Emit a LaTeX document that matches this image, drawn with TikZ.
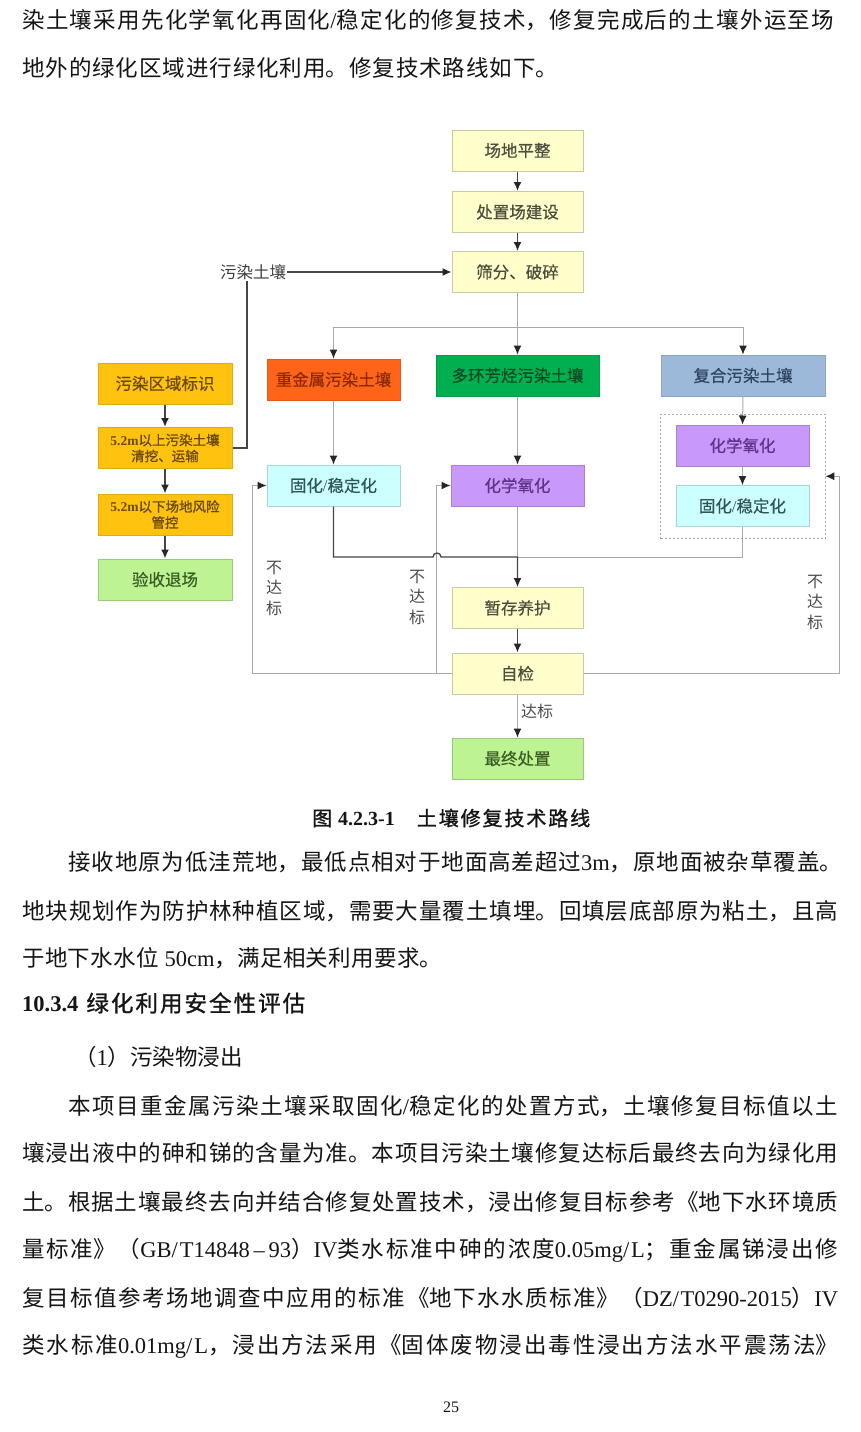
\documentclass[tikz,border=0pt]{standalone}
\usepackage{fontspec}
\setmainfont{Noto Sans CJK SC}
\newfontfamily\tnr{Liberation Serif}
\newfontfamily\cjkb[FakeBold=1.2]{Noto Sans CJK SC}
\newfontfamily\cjkm[FakeBold=0.5]{Noto Sans CJK SC}
\usetikzlibrary{arrows.meta}
\XeTeXlinebreaklocale "zh"
\XeTeXlinebreakskip=0pt plus 6pt
\tolerance=10000
\hbadness=10000
\setlength\parindent{0pt}
\definecolor{ylwF}{HTML}{FFFFCC}
\definecolor{ylwD}{HTML}{C9C9A3}
\definecolor{gldF}{HTML}{FFC20E}
\definecolor{gldD}{HTML}{E3AA10}
\definecolor{orgF}{HTML}{FF6418}
\definecolor{orgD}{HTML}{E8581A}
\definecolor{grnF}{HTML}{00B050}
\definecolor{grnD}{HTML}{0A9A48}
\definecolor{bluF}{HTML}{9CB9DA}
\definecolor{bluD}{HTML}{8AA6C6}
\definecolor{purF}{HTML}{C898FA}
\definecolor{purD}{HTML}{A880D8}
\definecolor{cynF}{HTML}{CCFFFF}
\definecolor{cynD}{HTML}{A8D4D4}
\definecolor{lgnF}{HTML}{BDF392}
\definecolor{lgnD}{HTML}{9ACB78}
\definecolor{tY}{HTML}{4D4D3D}
\definecolor{tG}{HTML}{6A4A00}
\definecolor{tO}{HTML}{8A2A08}
\definecolor{tGr}{HTML}{0E4A22}
\definecolor{tB}{HTML}{2E4462}
\definecolor{tP}{HTML}{5B3488}
\definecolor{tC}{HTML}{2F5656}
\definecolor{tL}{HTML}{3C5C24}
\definecolor{lnD}{HTML}{454545}
\definecolor{lnL}{HTML}{A8A8A8}
\definecolor{bodyT}{HTML}{151515}
\newcommand\pl[4]{\node[anchor=west,inner sep=0pt,text width=#3pt,align=justify,font=\fontsize{22.5}{26}\selectfont,text=bodyT] (#1) at (#2) {\parfillskip=0pt\relax #4\par};}
\begin{document}
\begin{tikzpicture}[x=1pt,y=-1pt,
  bx/.style={draw, line width=1pt, inner sep=0pt, minimum height=41pt, font=\cjkm\fontsize{16.5}{19}\selectfont},
  ylw/.style={bx, fill=ylwF, draw=ylwD, text=tY, minimum width=131pt},
  gld/.style={bx, fill=gldF, draw=gldD, text=tG, minimum width=134pt},
  org/.style={bx, fill=orgF, draw=orgD, text=tO, minimum width=133pt},
  grn/.style={bx, fill=grnF, draw=grnD, text=tGr, minimum width=163pt},
  blu/.style={bx, fill=bluF, draw=bluD, text=tB, minimum width=164pt},
  pur/.style={bx, fill=purF, draw=purD, text=tP, minimum width=133pt},
  cyn/.style={bx, fill=cynF, draw=cynD, text=tC, minimum width=133pt},
  lgn/.style={bx, fill=lgnF, draw=lgnD, text=tL},
  arr/.style={-{Latex[length=9pt,width=8pt,color=black!85]}},
  dk/.style={draw=lnD, line width=1.6pt},
  md/.style={draw=lnD, line width=1.3pt},
  lt/.style={draw=lnL, line width=1pt},
  lab/.style={font=\fontsize{16}{20.5}\selectfont, text=black!70, inner sep=1pt}
]
\fill[white] (0,0) rectangle (860,1432);
\useasboundingbox (0,0) rectangle (860,1432);

% ---------- text above ----------
\pl{t1}{22,20}{812}{染土壤采用先化学氧化再固化{\tnr/}稳定化的修复技术，修复完成后的土壤外运至场}
\pl{t2}{22,68}{536}{地外的绿化区域进行绿化利用。修复技术路线如下。}

% ---------- diagram ----------
\node[draw=gray!70, dash pattern=on 2pt off 2pt, line width=0.8pt, minimum width=164.5pt, minimum height=124.5pt, inner sep=0pt] (dbox) at (742.75,476.25) {};

\node[ylw] (s1) at (517.5,150.5) {场地平整};
\node[ylw] (s2) at (517.5,212) {处置场建设};
\node[ylw] (s3) at (517.5,272) {筛分、破碎};
\node[lab, text=black!75, font=\fontsize{16.5}{19}\selectfont] (lbl) at (253,272) {污染土壤};

\node[org] (hm) at (333.5,379.5) {重金属污染土壤};
\node[grn] (pah) at (517.5,375.5) {多环芳烃污染土壤};
\node[blu] (cp) at (743,375.5) {复合污染土壤};

\node[cyn] (ssL) at (333.5,485.5) {固化{\tnr/}稳定化};
\node[pur] (coM) at (517.5,485.5) {化学氧化};
\node[pur] (coR) at (742.5,445.5) {化学氧化};
\node[cyn] (ssR) at (742.5,506) {固化{\tnr/}稳定化};

\node[ylw] (tmp) at (517.5,608) {暂存养护};
\node[ylw] (chk) at (517.5,673.5) {自检};
\node[lgn, minimum width=131pt] (fin) at (517.5,758.5) {最终处置};

\node[gld] (L1) at (165,383.5) {污染区域标识};
\node[gld, font=\cjkb\fontsize{13.5}{16}\selectfont, align=center] (L2) at (165,448) {{\tnr\bfseries 5.2m}以上污染土壤\\清挖、运输};
\node[gld, font=\cjkb\fontsize{13.5}{16}\selectfont, align=center] (L3) at (165,514.5) {{\tnr\bfseries 5.2m}以下场地风险\\管控};
\node[lgn, minimum width=134pt] (L4) at (165,579.5) {验收退场};

\node[lab, align=center] (nd1) at (274,588) {不\\达\\标};
\node[lab, align=center] (nd2) at (417,597) {不\\达\\标};
\node[lab, align=center] (nd3) at (815,602) {不\\达\\标};
\node[lab] (ok) at (537,711) {达标};

\coordinate (br) at (517.5,327);
\coordinate (jn) at (517.5,557);
\coordinate (hopA) at (433,557);

\draw[dk,arr] (s1) -- (s2);
\draw[dk,arr] (s2) -- (s3);
\draw[md,arr] (lbl) -- (s3);
\draw[md] (L2.east) -| ([xshift=-6pt]lbl.south);
\draw[lt,arr] (s3) -- (pah);
\draw[lt,arr] (br) -| (hm.north);
\draw[lt,arr] (br) -| (cp.north);
\draw[lt,arr] (hm) -- (ssL);
\draw[lt,arr] (pah) -- (coM);
\draw[lt,arr] (cp.south) -- (coR.north);
\draw[lt,arr] (coR) -- (ssR);
\draw[lt] (coM.south) -- (jn);
\draw[lt] (ssR.south) |- (jn);
\draw[lt,arr] (chk.west) -| ([xshift=-14pt]ssL.west) -- (ssL.west);
\draw[lt,arr] ([xshift=-14pt]coM.west |- chk.west) -- ([xshift=-14pt]coM.west) -- (coM.west);
\draw[lt,arr] (chk.east) -| ([xshift=14pt]dbox.east) -- (dbox.east);
\draw[md,arr] (ssL.south) |- (hopA) arc[start angle=180,end angle=0,radius=4pt] -- (jn) -- (tmp.north);
\draw[dk,arr] (tmp) -- (chk);
\draw[lt,arr] (chk) -- (fin);
\draw[dk,arr] (L1) -- (L2);
\draw[dk,arr] (L2) -- (L3);
\draw[dk,arr] (L3) -- (L4);

% ---------- caption and text below ----------
\node[anchor=west,inner sep=0pt,text width=278pt,align=justify,font=\fontsize{20}{24}\selectfont,text=bodyT] (cap) at (312,818) {\parfillskip=0pt\relax{\cjkb 图}\hspace{6pt}{\tnr\bfseries 4.2.3-1}\hspace{22pt}{\cjkb 土壤修复技术路线}\par};

\pl{p1a}{68,862}{774}{接收地原为低洼荒地，最低点相对于地面高差超过{\tnr 3m}，原地面被杂草覆盖。}
\pl{p1b}{22,911}{816}{地块规划作为防护林种植区域，需要大量覆土填埋。回填层底部原为粘土，且高}
\pl{p1c}{22,958}{420}{于地下水水位{\tnr\ 50cm}，满足相关利用要求。}
\node[anchor=west,inner sep=0pt,text width=283pt,align=justify,font=\fontsize{22.5}{26}\selectfont,text=bodyT] (h1) at (22,1003) {\parfillskip=0pt\relax{\tnr\bfseries 10.3.4}\hspace{8pt}{\cjkb 绿化利用安全性评估}\par};
\node[anchor=west,inner sep=0pt,font=\fontsize{22.5}{26}\selectfont,text=bodyT] (h2) at (74,1057) {（{\tnr 1}）污染物浸出};
\pl{p2a}{68,1106}{770}{本项目重金属污染土壤采取固化{\tnr/}稳定化的处置方式，土壤修复目标值以土}
\pl{p2b}{22,1153}{816}{壤浸出液中的砷和锑的含量为准。本项目污染土壤修复达标后最终去向为绿化用}
\pl{p2c}{22,1202}{816}{土。根据土壤最终去向并结合修复处置技术，浸出修复目标参考《地下水环境质}
\pl{p2d}{22,1250}{816}{量标准》（{\tnr GB/T14848\,–\,93}）{\tnr IV}类水标准中砷的浓度{\tnr 0.05mg/L}；重金属锑浸出修}
\pl{p2e}{22,1298}{816}{复目标值参考场地调查中应用的标准《地下水水质标准》（{\tnr DZ/T0290-2015}）{\tnr IV}}
\pl{p2f}{22,1346}{816}{类水标准{\tnr 0.01mg/L}，浸出方法采用《固体废物浸出毒性浸出方法水平震荡法》}
\node[inner sep=0pt,font=\tnr\fontsize{16}{19}\selectfont,text=bodyT] (pg) at (451,1407) {25};
\end{tikzpicture}
\end{document}
